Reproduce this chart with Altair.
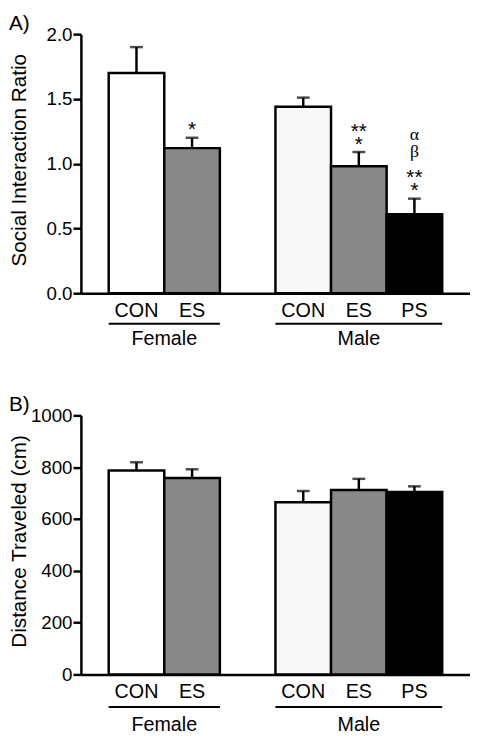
import altair as alt
import pandas as pd

# ---- data ----
groups = ["Female", "Female", "Male", "Male", "Male"]
conditions = ["CON", "ES", "CON", "ES", "PS"]
positions = [0, 1, 3, 4, 5]
fills = ["#ffffff", "#888888", "#f8f8f8", "#888888", "#000000"]

sir_mean = [1.70, 1.12, 1.44, 0.98, 0.61]
sir_sem = [0.20, 0.08, 0.07, 0.11, 0.12]
# significance marks above each bar, stacked from the error bar upwards
sir_mark1 = ["", "*", "", "*", "*"]
sir_mark2 = ["", "", "", "**", "**"]
sir_mark3 = ["", "", "", "", "β"]
sir_mark4 = ["", "", "", "", "α"]

dist_mean = [787, 758, 665, 712, 704]
dist_sem = [32, 34, 43, 43, 22]

group_names = ["Female", "Male"]
group_first = [0, 3]
group_last = [1, 5]

sir_ticks = [0, 0.5, 1.0, 1.5, 2.0]
dist_ticks = [0, 200, 400, 600, 800, 1000]

FONT = "Liberation Sans"
W, H = 395, 263

bars_df = pd.DataFrame({
    "group": groups, "cond": conditions, "pos": positions, "fill": fills,
})
groups_df = pd.DataFrame({"name": group_names, "first": group_first, "last": group_last})

xscale = alt.Scale(domain=[-1, 6], nice=False, zero=False)
xaxis = alt.Axis(labels=False, ticks=False, grid=False, title=None,
                 domainColor="black", domainWidth=2.5)


def panel(mean, sem, ytitle, ydomain, yticks, yfmt, label, marks=None,
          lab_y=18, line_y=32, grp_y=49):
    df = bars_df.copy()
    df["mean"] = mean
    df["upper"] = [m + s for m, s in zip(mean, sem)]
    if marks is not None:
        for i, m in enumerate(marks):
            df[f"m{i}"] = m
    base = alt.Chart(df)
    yscale = alt.Scale(domain=ydomain, nice=False, zero=True)
    yaxis = alt.Axis(values=yticks, format=yfmt, grid=False, tickSize=8, tickWidth=2.5,
                     tickColor="black", domainColor="black", domainWidth=2.5,
                     labelFontSize=19, labelFont=FONT, labelColor="black", labelPadding=1,
                     title=ytitle, titleFontSize=21, titleFont=FONT, titleFontWeight="normal",
                     titleColor="black", titleX=-62, titleY=H / 2 - 4, titleAngle=-90,
                     titleAlign="center", titleBaseline="middle")
    x = alt.X("pos:Q", scale=xscale, axis=xaxis)

    stem = base.mark_rule(color="black", strokeWidth=2.5).encode(
        x=x, y=alt.Y("mean:Q", scale=yscale, axis=yaxis), y2="upper:Q")
    cap = base.mark_tick(orient="horizontal", color="black", size=13, thickness=2.5).encode(
        x="pos:Q", y="upper:Q")
    rect = base.transform_calculate(x0="datum.pos - 0.5", x1="datum.pos + 0.5").mark_rect(
        stroke="black", strokeWidth=2.5).encode(
        x="x0:Q", x2="x1:Q", y="mean:Q", y2=alt.datum(0),
        fill=alt.Fill("fill:N", scale=None))
    cats = base.mark_text(font=FONT, fontSize=20, baseline="middle", color="black").encode(
        x="pos:Q", y=alt.value(H + lab_y), text="cond:N")

    g = alt.Chart(groups_df).transform_calculate(
        x0="datum.first - 0.5", x1="datum.last + 0.5", xm="(datum.first + datum.last) / 2")
    uline = g.mark_rule(color="black", strokeWidth=2).encode(
        x="x0:Q", x2="x1:Q", y=alt.value(H + line_y))
    glab = g.mark_text(font=FONT, fontSize=20, baseline="middle", color="black").encode(
        x="xm:Q", y=alt.value(H + grp_y), text="name:N")

    layers = [stem, cap, rect, cats, uline, glab]
    if marks is not None:
        styles = [(FONT, 21, -1.5), (FONT, 21, -14.5),
                  ("Liberation Serif", 18, -42), ("Liberation Serif", 18, -60)]
        for i, (fnt, fs, dy) in enumerate(styles):
            layers.append(
                base.transform_filter(f"datum.m{i} != ''").mark_text(
                    font=fnt, fontSize=fs, baseline="alphabetic", dy=dy, color="black"
                ).encode(x="pos:Q", y="upper:Q", text=f"m{i}:N"))
    return alt.layer(*layers).properties(
        width=W, height=H,
        title=alt.TitleParams(label, anchor="start", frame="bounds", fontSize=21,
                              fontWeight="normal", font=FONT, color="black", offset=-9))


a = panel(sir_mean, sir_sem, "Social Interaction Ratio", [0, 2], sir_ticks, ".1f", "A)",
          marks=[sir_mark1, sir_mark2, sir_mark3, sir_mark4], lab_y=18, line_y=31, grp_y=47)
b = panel(dist_mean, dist_sem, "Distance Traveled (cm)", [0, 1000], dist_ticks, "d", "B)",
          lab_y=18, line_y=33, grp_y=51)

chart = alt.vconcat(a, b, spacing=46).properties(
    padding={"left": 0, "top": 0, "right": 0, "bottom": 0}
).configure_view(stroke=None)

chart.save("out.html", embed_options={"renderer": "svg", "actions": False})
